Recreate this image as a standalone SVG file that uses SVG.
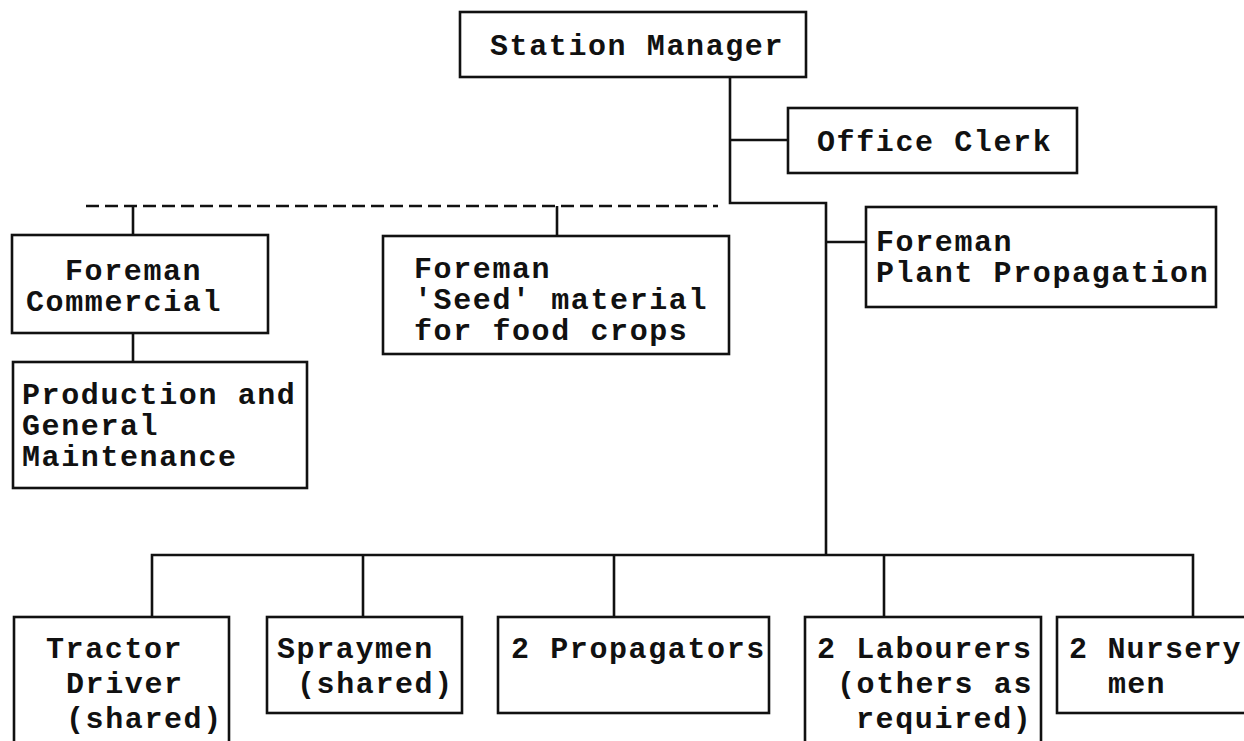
<svg xmlns="http://www.w3.org/2000/svg" width="1244" height="741" viewBox="0 0 1244 741">
<style>
.box{fill:#fff;stroke:#111;stroke-width:2.6}
.ln{fill:none;stroke:#111;stroke-width:2.6}
.dash{fill:none;stroke:#111;stroke-width:2.6;stroke-dasharray:13 6}
text{font-family:"Liberation Mono","DejaVu Sans Mono",monospace;font-weight:bold;font-size:30px;letter-spacing:1.6px;fill:#111}
</style>
<rect width="1244" height="741" fill="#fff"/>
<g id="connectors">
<path class="ln" d="M730,77 V203 H826 V555"/>
<path class="ln" d="M730,140 H788"/>
<path class="ln" d="M826,242 H866"/>
<path class="dash" d="M86,206 H718"/>
<path class="ln" d="M133,206 V235"/>
<path class="ln" d="M557,206 V236"/>
<path class="ln" d="M133,333 V362"/>
<path class="ln" d="M152,617 V555 H1193 V617"/>
<path class="ln" d="M363,555 V617"/>
<path class="ln" d="M614,555 V617"/>
<path class="ln" d="M884,555 V617"/>
</g>
<g id="station-manager"><rect class="box" x="460" y="12" width="346" height="65"/><text x="490" y="55">Station Manager</text></g>
<g id="office-clerk"><rect class="box" x="788" y="108" width="289" height="65"/><text x="817" y="151">Office Clerk</text></g>
<g id="foreman-plant"><rect class="box" x="866" y="207" width="350" height="100"/><text x="876" y="251">Foreman</text><text x="876" y="282">Plant Propagation</text></g>
<g id="foreman-commercial"><rect class="box" x="12" y="235" width="256" height="98"/><text x="65" y="280">Foreman</text><text x="26" y="311">Commercial</text></g>
<g id="foreman-seed"><rect class="box" x="383" y="236" width="346" height="118"/><text x="414" y="278">Foreman</text><text x="414" y="309">'Seed' material</text><text x="414" y="340">for food crops</text></g>
<g id="production"><rect class="box" x="13" y="362" width="294" height="126"/><text x="22" y="404">Production and</text><text x="22" y="435">General</text><text x="22" y="466">Maintenance</text></g>
<g id="tractor"><rect class="box" x="14" y="617" width="215" height="160"/><text x="46" y="658">Tractor</text><text x="66" y="693">Driver</text><text x="66" y="728">(shared)</text></g>
<g id="spraymen"><rect class="box" x="267" y="617" width="195" height="96"/><text x="277" y="658">Spraymen</text><text x="297" y="693">(shared)</text></g>
<g id="propagators"><rect class="box" x="498" y="617" width="271" height="96"/><text x="511" y="658">2 Propagators</text></g>
<g id="labourers"><rect class="box" x="805" y="617" width="236" height="160"/><text x="817" y="658">2 Labourers</text><text x="837" y="693">(others as</text><text x="856" y="728">required)</text></g>
<g id="nursery"><rect class="box" x="1057" y="617" width="220" height="96"/><text x="1069" y="658" style="letter-spacing:1.2px">2 Nursery</text><text x="1108" y="693" style="letter-spacing:1.2px">men</text></g>
</svg>
